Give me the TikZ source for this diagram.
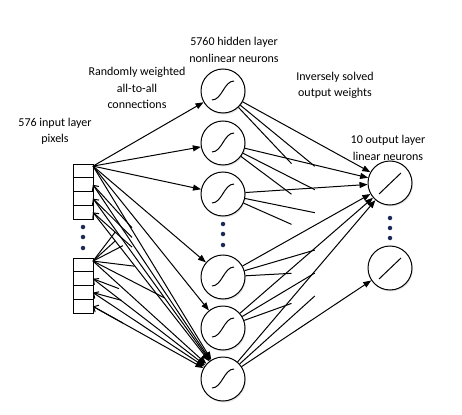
\documentclass[tikz,border=0pt]{standalone}
\usepackage{fontspec}
\setmainfont{Carlito}
\usetikzlibrary{positioning,arrows.meta,calc,shadows}
\definecolor{dotblue}{HTML}{1C2A5A}

\begin{document}
\begin{tikzpicture}[
    x=1pt, y=-1pt,
    line width=1pt,
    font=\fontsize{12}{16.5}\selectfont,
    neuron/.style ={
        circle,
        draw,
        fill=white,
        minimum size=44pt,
        inner sep=0pt,
        drop shadow={shadow xshift=1pt,shadow yshift=-1.5pt,opacity=0.2}
    },
    pixel/.style ={
        rectangle,
        draw,
        fill=white,
        minimum width=20pt,
        minimum height=13.8pt,
        inner sep=0pt,
        outer sep=0pt,
        drop shadow={shadow xshift=1pt,shadow yshift=-1pt,opacity=0.2}
    },
    txt/.style ={align=center},
    dot/.style ={circle, fill=dotblue, inner sep=0pt, minimum size=4.5pt},
    >={Triangle[length=8pt,width=6pt]},
    barb/.style ={{Straight Barb[length=4pt,width=8pt]}->}
    ]
    \useasboundingbox (0,0) rectangle (462,414);

    % input pixels
    \node[pixel] (tb1) at (83,171) {};
    \node[pixel, below=0pt of tb1] (tb2) {};
    \node[pixel, below=0pt of tb2] (tb3) {};
    \node[pixel, below=0pt of tb3] (tb4) {};
    \node[pixel] (bb1) at (83,265) {};
    \node[pixel, below=0pt of bb1] (bb2) {};
    \node[pixel, below=0pt of bb2] (bb3) {};
    \node[pixel, below=0pt of bb3] (bb4) {};
    \foreach \y [count=\k] in {227,237,248}
        \node[dot] (id\k) at (83,\y) {};

    % hidden and output neurons
    \foreach \i/\y in {1/91,2/143,3/194,4/277,5/328,6/379}
        \node[neuron] (h\i) at (223,\y) {};
    \foreach \y [count=\k] in {224,234,245}
        \node[dot] (hd\k) at (223,\y) {};
    \node[neuron] (o1) at (390,183) {};
    \node[neuron] (o2) at (390,268) {};
    \foreach \y [count=\k] in {218,228,238}
        \node[dot] (od\k) at (390,\y) {};

    \foreach \i in {1,...,6}
        \draw ($(h\i)+(-11,9)$) .. controls ($(h\i)+(-1,9)$) and ($(h\i)+(1,-10)$) .. ($(h\i)+(11,-10)$);
    \foreach \i in {1,2}
        \draw ($(o\i)+(-11,11)$) -- ($(o\i)+(11,-10)$);

    % labels
    \node[txt] (hidtxt) at (234,50) {5760 hidden layer\\nonlinear neurons};
    \node[txt] (rndtxt) at (137,88) {Randomly weighted\\all-to-all\\connections};
    \node[txt] (invtxt) at (335,85.5) {Inversely solved\\output weights};
    \node[txt] (intxt) at (55,131.5) {576 input layer\\pixels};
    \node[txt] (outtxt) at (388,148) {10 output layer\\linear neurons};

    % input to hidden
    \coordinate (tsrc) at ([yshift=-2pt]tb1.north east);
    \coordinate (bsrc) at ([yshift=-3pt]bb1.north east);
    \foreach \i in {1,...,6}
        \draw[->] (tsrc) -- (h\i);
    \draw[->] (bsrc) -- (h6);
    \foreach \b in {tb2,tb3,tb4,bb2,bb3,bb4}
        \draw[barb] (\b.east) -- (h6);
    \foreach \b in {tb2,tb3,tb4}
        \draw (\b.east) -- ($(\b.east)!0.3!(h5)$);
    \foreach \n/\f in {h1/0.17,h2/0.17,h3/0.23,h4/0.32,h5/0.55}
        \draw (bsrc) -- ($(bsrc)!\f!(\n)$);
    \draw (bb2.east) -- ($(bb2.east)!0.2!(h5)$);
    \draw (bb3.east) -- ($(bb3.east)!0.22!(h5)$);
    \draw (bb4.east) -- ($(bb4.east)!0.23!(h6)$);

    % hidden to output
    \foreach \i in {1,...,6} {
        \draw[->] (h\i) -- (o1);
        \draw (h\i) -- ($(h\i)!0.55!(od2)$);
    }
    \foreach \i in {1,...,5}
        \draw (h\i) -- ($(h\i)!0.41!(o2)$);
    \draw[->] (h6) -- (o2);
\end{tikzpicture}
\end{document}
